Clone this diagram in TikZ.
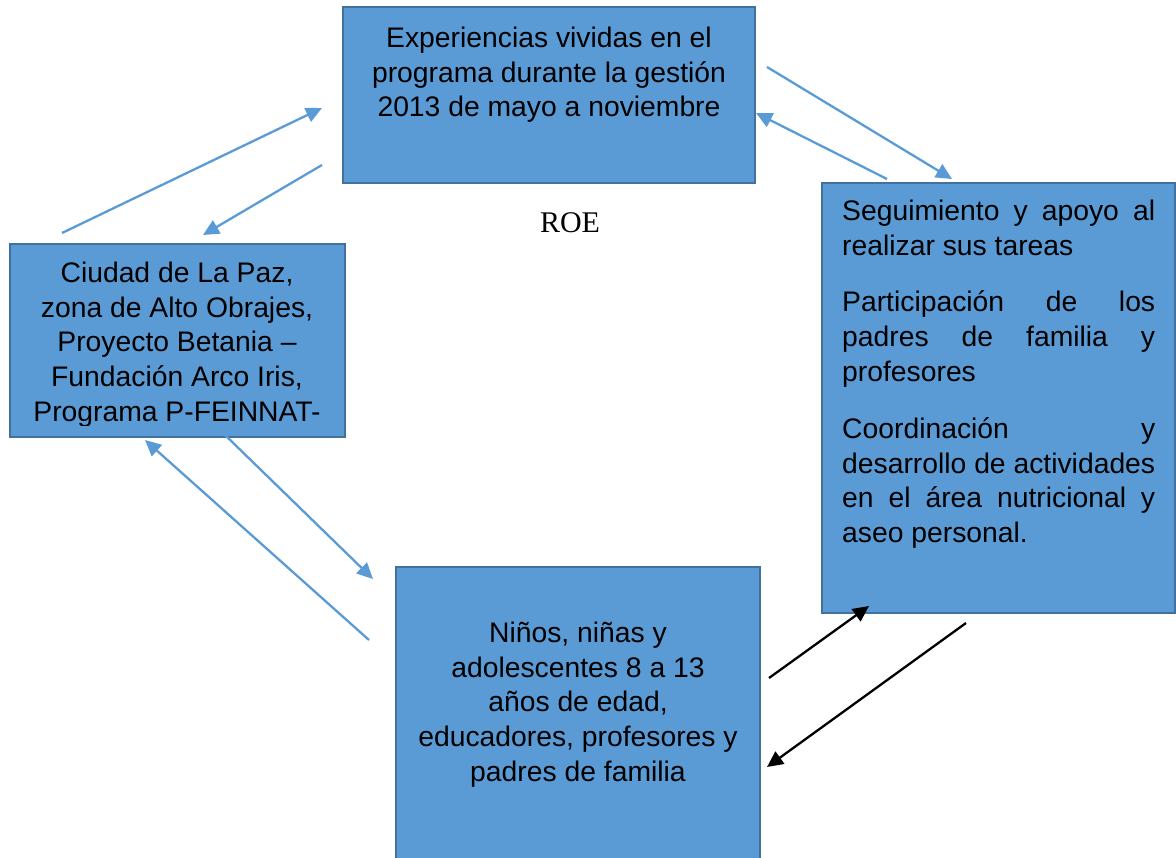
\documentclass[tikz,border=0pt]{standalone}
\usepackage{fontspec}
\setmainfont{Liberation Sans}
\newfontfamily\roefont{Liberation Serif}
\usetikzlibrary{arrows.meta}
\definecolor{boxfill}{HTML}{5B9BD5}
\definecolor{boxline}{HTML}{41719C}
\definecolor{arrowblue}{HTML}{5B9BD5}
\tikzset{
  box/.style={draw=boxline, fill=boxfill, line width=2pt, rectangle, inner sep=0pt},
  txt/.style={inner sep=0pt, font=\fontsize{28.3pt}{34.8pt}\selectfont, align=center, anchor=north},
  blue arrow/.style={draw=arrowblue, line width=2.3pt, -{Triangle[length=16pt,width=15pt]}},
  black arrow/.style={draw=black, line width=2.3pt, -{Triangle[length=16pt,width=15pt]}},
}
\begin{document}
\begin{tikzpicture}[x=1pt,y=-1pt]
\useasboundingbox (0,0) rectangle (1176,858);
% boxes
\path[box] (343,7) rectangle (755,183);
\node[inner sep=0pt] (top) at (549,95) {};
\path[box] (822,183) rectangle (1175,613);
\node[inner sep=0pt] (right) at (998,398) {};
\path[box] (10,244) rectangle (345,437);
\node[inner sep=0pt] (left) at (177,340) {};
\path[box] (396,567) rectangle (760,870);
\node[inner sep=0pt] (bottom) at (578,712) {};
% texts
\node[txt] (toptext) at (549,22.8) {\strut Experiencias vividas en el\\programa durante la gesti\'on\\2013 de mayo a noviembre};
\begin{scope}
\clip (10,244) rectangle (345,425.5);
\node[txt] (lefttext) at (177,257.8) {\strut Ciudad de La Paz,\\zona de Alto Obrajes,\\Proyecto Betania --\\Fundaci\'on Arco Iris,\\Programa P-FEINNAT-};
\end{scope}
\node[txt] (bottomtext) at (578,617.8) {\strut Ni\~nos, ni\~nas y\\adolescentes 8 a 13\\a\~nos de edad,\\educadores, profesores y\\padres de familia};
\node[inner sep=0pt, anchor=north west, text width=313pt, align=justify,
      font=\fontsize{28.3pt}{34.8pt}\selectfont] (righttext) at (842,195.8)
  {\hyphenpenalty=10000\setlength{\parskip}{22pt}%
   \strut Seguimiento y apoyo al\linebreak realizar sus tareas\par
   Participaci\'on de los\linebreak padres de familia y\linebreak profesores\par
   Coordinaci\'on y\linebreak desarrollo de actividades\linebreak en el \'area nutricional y\linebreak aseo personal.\par};
\node[inner sep=0pt, anchor=base, font=\roefont\fontsize{30pt}{34pt}\selectfont] (roe) at (570,233) {ROE};
% arrow endpoints
\coordinate (a1s) at (62,233);  \coordinate (a1e) at (322,108);
\coordinate (a2s) at (322,165); \coordinate (a2e) at (203,235);
\coordinate (a3s) at (767,67);  \coordinate (a3e) at (952,179);
\coordinate (a4s) at (887,179); \coordinate (a4e) at (756,113);
\coordinate (a5s) at (225,435); \coordinate (a5e) at (373,579);
\coordinate (a6s) at (369,640); \coordinate (a6e) at (145,440);
\coordinate (a7s) at (769,678); \coordinate (a7e) at (869,606);
\coordinate (a8s) at (966,623); \coordinate (a8e) at (767,767);
\draw[blue arrow] (a1s) -- (a1e);
\draw[blue arrow] (a2s) -- (a2e);
\draw[blue arrow] (a3s) -- (a3e);
\draw[blue arrow] (a4s) -- (a4e);
\draw[blue arrow] (a5s) -- (a5e);
\draw[blue arrow] (a6s) -- (a6e);
\draw[black arrow] (a7s) -- (a7e);
\draw[black arrow] (a8s) -- (a8e);
\end{tikzpicture}
\end{document}
